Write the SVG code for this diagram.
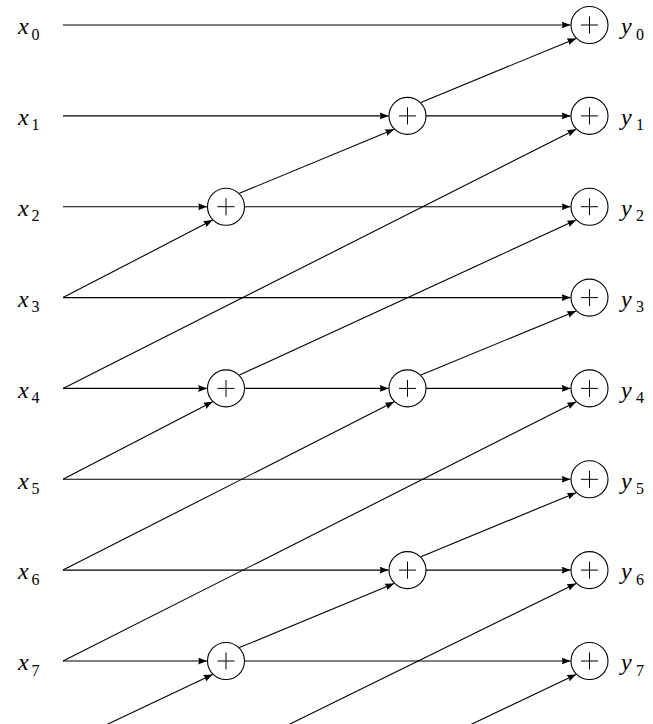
<svg xmlns="http://www.w3.org/2000/svg" width="653" height="724" viewBox="0 0 653 724">
<style>
.ln{stroke:#000;stroke-width:1.1;fill:none}
.ar{marker-end:url(#ah)}
.v{font-style:italic;font-size:24px}
.s{font-size:16px}
</style>
<defs>
<marker id="ah" markerUnits="userSpaceOnUse" markerWidth="10" markerHeight="8" refX="9" refY="3.5" orient="auto">
<path d="M0,0 L9,3.5 L0,7 Q2,3.5 0,0 Z" fill="#000"/>
</marker>
<g id="plus"><circle r="18.5" fill="#fff" stroke="#000" stroke-width="1.1"/><path d="M-8.5,0 H8.5 M0,-8.5 V8.5" stroke="#000" stroke-width="1" fill="none"/></g>
</defs>
<g id="connectors">
<line class="ln ar" x1="63" y1="25" x2="570.5" y2="25"/>
<line class="ln ar" x1="63" y1="115.9" x2="388.5" y2="115.9"/>
<line class="ln ar" x1="426" y1="115.9" x2="570.5" y2="115.9"/>
<line class="ln ar" x1="63" y1="206.7" x2="207" y2="206.7"/>
<line class="ln ar" x1="244.5" y1="206.7" x2="570.5" y2="206.7"/>
<line class="ln ar" x1="63" y1="297.6" x2="570.5" y2="297.6"/>
<line class="ln ar" x1="63" y1="388.4" x2="207" y2="388.4"/>
<line class="ln ar" x1="244.5" y1="388.4" x2="388.5" y2="388.4"/>
<line class="ln ar" x1="426" y1="388.4" x2="570.5" y2="388.4"/>
<line class="ln ar" x1="63" y1="479.3" x2="570.5" y2="479.3"/>
<line class="ln ar" x1="63" y1="570.1" x2="388.5" y2="570.1"/>
<line class="ln ar" x1="426" y1="570.1" x2="570.5" y2="570.1"/>
<line class="ln ar" x1="63" y1="661" x2="207" y2="661"/>
<line class="ln ar" x1="244.5" y1="661" x2="570.5" y2="661"/>
<line class="ln ar" x1="63" y1="297.6" x2="212.6" y2="220.1"/>
<line class="ln ar" x1="239.4" y1="193.3" x2="394.1" y2="129.3"/>
<line class="ln ar" x1="420.9" y1="102.5" x2="576.1" y2="38.4"/>
<line class="ln ar" x1="63" y1="388.4" x2="576.1" y2="129.3"/>
<line class="ln ar" x1="239.4" y1="375" x2="576.1" y2="220.1"/>
<line class="ln ar" x1="420.9" y1="375" x2="576.1" y2="311"/>
<line class="ln ar" x1="63" y1="479.3" x2="212.6" y2="401.8"/>
<line class="ln ar" x1="63" y1="570.1" x2="394.1" y2="401.8"/>
<line class="ln ar" x1="420.9" y1="556.7" x2="576.1" y2="492.7"/>
<line class="ln ar" x1="63" y1="661" x2="576.1" y2="401.8"/>
<line class="ln ar" x1="239.4" y1="647.6" x2="394.1" y2="583.5"/>
<line class="ln ar" x1="107" y1="724.5" x2="212.6" y2="674.4"/>
<line class="ln ar" x1="289" y1="724.5" x2="576.1" y2="583.5"/>
<line class="ln ar" x1="471" y1="724.5" x2="576.1" y2="674.4"/>
</g>
<g id="n_c1_r2"><use href="#plus" x="226" y="206.7"/></g>
<g id="n_c1_r4"><use href="#plus" x="226" y="388.4"/></g>
<g id="n_c1_r7"><use href="#plus" x="226" y="661"/></g>
<g id="n_c2_r1"><use href="#plus" x="407.5" y="115.9"/></g>
<g id="n_c2_r4"><use href="#plus" x="407.5" y="388.4"/></g>
<g id="n_c2_r6"><use href="#plus" x="407.5" y="570.1"/></g>
<g id="n_y0"><use href="#plus" x="589.5" y="25"/></g>
<g id="n_y1"><use href="#plus" x="589.5" y="115.9"/></g>
<g id="n_y2"><use href="#plus" x="589.5" y="206.7"/></g>
<g id="n_y3"><use href="#plus" x="589.5" y="297.6"/></g>
<g id="n_y4"><use href="#plus" x="589.5" y="388.4"/></g>
<g id="n_y5"><use href="#plus" x="589.5" y="479.3"/></g>
<g id="n_y6"><use href="#plus" x="589.5" y="570.1"/></g>
<g id="n_y7"><use href="#plus" x="589.5" y="661"/></g>
<g id="labels_x" font-family="Liberation Serif, serif" fill="#000">
<text class="v" x="18" y="34.3">x</text><text class="s" x="31.5" y="39.5">0</text>
<text class="v" x="18" y="125.2">x</text><text class="s" x="31.5" y="130.4">1</text>
<text class="v" x="18" y="216">x</text><text class="s" x="31.5" y="221.2">2</text>
<text class="v" x="18" y="306.9">x</text><text class="s" x="31.5" y="312.1">3</text>
<text class="v" x="18" y="397.7">x</text><text class="s" x="31.5" y="402.9">4</text>
<text class="v" x="18" y="488.6">x</text><text class="s" x="31.5" y="493.8">5</text>
<text class="v" x="18" y="579.4">x</text><text class="s" x="31.5" y="584.6">6</text>
<text class="v" x="18" y="670.3">x</text><text class="s" x="31.5" y="675.5">7</text>
</g>
<g id="labels_y" font-family="Liberation Serif, serif" fill="#000">
<text class="v" x="621" y="34.3">y</text><text class="s" x="636" y="39.5">0</text>
<text class="v" x="621" y="125.2">y</text><text class="s" x="636" y="130.4">1</text>
<text class="v" x="621" y="216">y</text><text class="s" x="636" y="221.2">2</text>
<text class="v" x="621" y="306.9">y</text><text class="s" x="636" y="312.1">3</text>
<text class="v" x="621" y="397.7">y</text><text class="s" x="636" y="402.9">4</text>
<text class="v" x="621" y="488.6">y</text><text class="s" x="636" y="493.8">5</text>
<text class="v" x="621" y="579.4">y</text><text class="s" x="636" y="584.6">6</text>
<text class="v" x="621" y="670.3">y</text><text class="s" x="636" y="675.5">7</text>
</g>
</svg>
